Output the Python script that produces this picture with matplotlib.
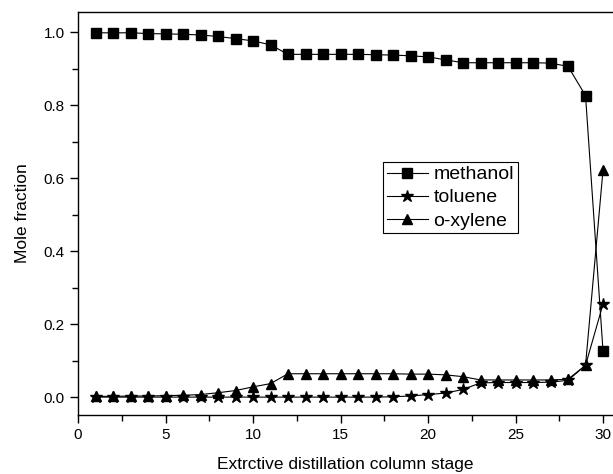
import matplotlib as mpl; mpl.use("Agg")
import matplotlib.pyplot as plt
from matplotlib.ticker import MultipleLocator

mpl.rcParams.update({"font.family": "Liberation Sans", "axes.linewidth": 1.0})

stage = list(range(1, 31))
methanol = [0.998, 0.998, 0.998, 0.996, 0.995, 0.994, 0.992, 0.988, 0.982, 0.976,
            0.965, 0.939, 0.939, 0.939, 0.939, 0.939, 0.938, 0.937, 0.935, 0.932,
            0.924, 0.916, 0.916, 0.916, 0.916, 0.916, 0.915, 0.906, 0.826, 0.126]
toluene = [0.0, 0.0, 0.0, 0.0, 0.0, 0.0, 0.0, 0.0, 0.0, 0.0,
           0.0, 0.0, 0.0, 0.0, 0.0, 0.0, 0.0, 0.001, 0.003, 0.007,
           0.011, 0.021, 0.039, 0.040, 0.040, 0.040, 0.041, 0.046, 0.087, 0.255]
oxylene = [0.002, 0.002, 0.003, 0.003, 0.004, 0.005, 0.007, 0.012, 0.018, 0.028,
           0.037, 0.064, 0.064, 0.064, 0.064, 0.064, 0.064, 0.064, 0.063, 0.063,
           0.061, 0.056, 0.047, 0.047, 0.047, 0.047, 0.047, 0.049, 0.087, 0.622]

fig = plt.figure(figsize=(6.13, 4.74), dpi=100)
ax = fig.add_axes([78/613, 59/474, 535/613, 403/474])

kw = dict(color="black", lw=0.8)
ax.plot(stage, methanol, marker="s", ms=6.5, label="methanol", **kw)
ax.plot(stage, toluene, marker="*", ms=9, label="toluene", **kw)
ax.plot(stage, oxylene, marker="^", ms=7.5, label="o-xylene", **kw)

ax.set_xlim(0, 30.57)
ax.set_ylim(-0.049, 1.055)
ax.xaxis.set_major_locator(MultipleLocator(5))
ax.xaxis.set_minor_locator(MultipleLocator(2.5))
ax.yaxis.set_major_locator(MultipleLocator(0.2))
ax.yaxis.set_minor_locator(MultipleLocator(0.1))
ax.yaxis.set_major_formatter(mpl.ticker.FormatStrFormatter("%.1f"))
ax.tick_params(which="major", direction="out", length=6, width=1, labelsize=11)
ax.tick_params(which="minor", direction="out", length=4, width=1)
ax.spines["right"].set_visible(False)

ax.set_xlabel("Extrctive distillation column stage", fontsize=12.5, labelpad=11)
ax.set_ylabel("Mole fraction", fontsize=12.5, labelpad=10)

ax.legend(loc="upper left", bbox_to_anchor=(0.570, 0.628), borderaxespad=0,
          fontsize=14, fancybox=False, edgecolor="black", framealpha=1,
          borderpad=0.2, labelspacing=0.28, handlelength=2.1, handletextpad=0.3)
ax.get_legend().get_frame().set_linewidth(0.8)

fig.savefig("out.png", dpi=100)
